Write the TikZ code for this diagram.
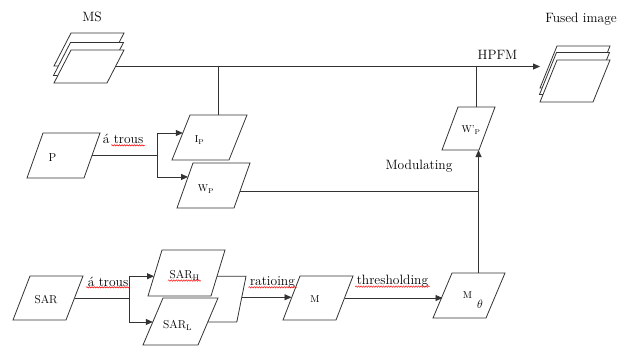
\documentclass[tikz,border=0pt]{standalone}
\usepackage{fontspec}
\usetikzlibrary{arrows.meta,calc,decorations.pathmorphing}
\tikzset{
  pgshape/.style={draw=black!80, fill=white, line width=0.8pt, inner sep=0pt, outer sep=0pt},
  conn/.style={draw=black!80, line width=0.8pt},
  arr/.style={conn, -{Triangle[length=7pt,width=6pt]}},
  spell/.style={draw=red, line width=0.5pt, decorate, decoration={snake, amplitude=0.7pt, segment length=2.5pt}},
  lbig/.style={font=\rmfamily\fontsize{13.5}{16}\selectfont},
  llab/.style={font=\rmfamily\fontsize{11.5}{14}\selectfont},
  lsml/.style={font=\rmfamily\fontsize{10}{12}\selectfont},
  lthet/.style={font=\fontsize{13}{16}\selectfont},
}
\newcommand{\mypgbox}[6]{%
  \begin{scope}[shift={(#2,#3)},xslant={#6/#5}]
    \node[pgshape,minimum width=#4pt,minimum height=#5pt,transform shape] (#1) at (0,0) {};
  \end{scope}}
\begin{document}
\begin{tikzpicture}[x=1pt,y=-1pt]
\useasboundingbox (0,0) rectangle (628,349);
\fill[white] (0,0) rectangle (628,349);

% image stacks
\mypgbox{ms1}{89}{49.5}{53}{33}{17}
\mypgbox{ms2}{88.5}{59}{53}{33}{17}
\mypgbox{ms3}{89}{66.5}{53}{33}{17}
\mypgbox{fi1}{575}{67}{53}{42}{17}
\mypgbox{fi2}{574.5}{73.5}{53}{42}{17}
\mypgbox{fi3}{575}{81}{53}{42}{17}

% boxes
\mypgbox{P}{63.5}{155.5}{57}{45}{16}
\mypgbox{Ip}{209.5}{137.5}{57}{45}{18}
\mypgbox{Wp}{213.5}{185.5}{57}{45}{16}
\mypgbox{Wpp}{468.5}{128.5}{37}{43}{16}
\mypgbox{SAR}{48}{298}{53}{44}{17}
\mypgbox{SARH}{186.5}{273}{63}{46}{14}
\mypgbox{SARL}{180.5}{321.5}{55}{47}{20}
\mypgbox{M}{318}{298}{53}{44}{17}
\mypgbox{Mt}{469}{295.5}{53}{45}{19}

% main line
\coordinate (hpfm) at (540,66.5);
\draw[arr] (ms3.east) -- (hpfm);
\draw[conn] (Ip.north) -- (Ip.north |- ms3.east);
\draw[conn] (Wpp.north) -- (Wpp.north |- ms3.east);

% P branch
\coordinate (pb) at (157,155.5);
\coordinate (ipin) at ($(Ip.north west)!0.4!(Ip.south west)$);
\coordinate (wpin) at ($(Wp.north west)!0.31!(Wp.south west)$);
\draw[conn] (P.east) -- (pb);
\draw[arr] (pb) |- (ipin);
\draw[arr] (pb) |- (wpin);

% Wp to modulation
\coordinate (wpo) at ($(Wp.north east)!0.64!(Wp.south east)$);
\draw[conn] (wpo) -- (wpo -| Mt.north);
\draw[arr] (Mt.north) -- (Mt.north |- Wpp.south);

% SAR branch
\coordinate (sb) at (129,298);
\coordinate (shin) at ($(SARH.north west)!0.57!(SARH.south west)$);
\coordinate (slin) at ($(SARL.north west)!0.51!(SARL.south west)$);
\draw[conn] (SAR.east) -- (sb);
\draw[arr] (sb) |- (shin);
\draw[arr] (sb) |- (slin);
\coordinate (shout) at ($(SARH.north east)!0.57!(SARH.south east)$);
\coordinate (slout) at ($(SARL.north east)!0.51!(SARL.south east)$);
\coordinate (j1) at ($(shout)+(29,0)$);
\coordinate (j2) at ($(slout)+(29,0)$);
\draw[conn] (shout) -- (j1) -- (j2) -- (slout);
\coordinate (jm) at ($(j1)!0.46!(j2)$);
\draw[arr] (jm) -- (jm -| M.west);
\draw[arr] (M.east) -- (M.east -| Mt.west);

% labels
\node[lbig] (lms) at (92,17) {MS};
\node[lbig] (lfi) at (581,19) {Fused image};
\node[lbig] (lhp) at (497.5,55) {HPFM};
\node[lbig] (lmod) at (419,166) {Modulating};
\node[lbig] (lat1) at (123,139) {á trous};
\node[lbig] (lat2) at (108,282) {á trous};
\node[lbig] (lrat) at (272.5,282) {ratioing};
\node[lbig] (lthr) at (392.5,281) {thresholding};

\node[llab] (tP) at (52.5,158) {P};
\node[lsml] (tIp) at (199.5,140) {I\textsubscript{P}};
\node[lsml] (tWp) at (206,189) {W\textsubscript{P}};
\node[lsml] (tWpp) at (471,130) {W’\textsubscript{P}};
\node[llab] (tSAR) at (46,300) {SAR};
\node[llab] (tSARH) at (184.5,275) {SAR\textsubscript{H}};
\node[llab] (tSARL) at (177.5,325) {SAR\textsubscript{L}};
\node[lsml] (tM) at (315,299) {M};
\node[lsml] (tMt) at (467.5,295) {M};
\node[lthet] (tth) at (480,304) {$\theta$};

% spell-check underlines
\draw[spell] ($(lat1.south west)+(12,-2)$) -- ($(lat1.south east)+(-2,-2)$);
\draw[spell] ($(lat2.south west)+(2,-3)$) -- ($(lat2.south east)+(-2,-3)$);
\draw[spell] ($(tSARH.south west)+(2,-3)$) -- ($(tSARH.south east)+(-2,-3)$);
\draw[spell] ($(lrat.south west)+(2,-4)$) -- ($(lrat.south east)+(-2,-4)$);
\draw[spell] ($(lthr.south west)+(2,-4)$) -- ($(lthr.south east)+(-2,-4)$);
\end{tikzpicture}
\end{document}
